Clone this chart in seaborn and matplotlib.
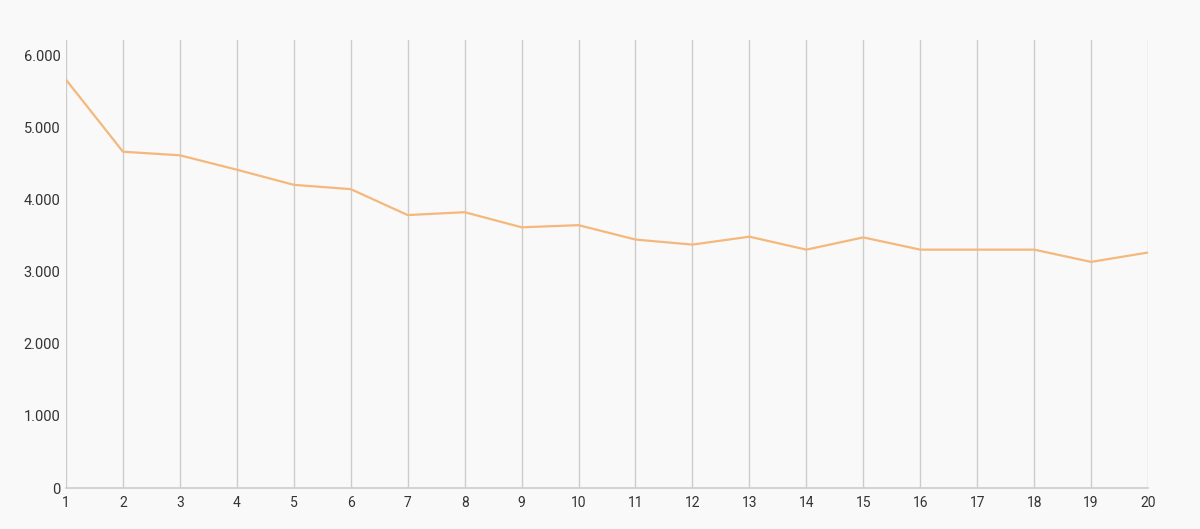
import seaborn as sns
import matplotlib.pyplot as plt
import pandas as pd
from matplotlib.ticker import FuncFormatter

# Values
steps = list(range(1, 21))
values = [5670, 4670, 4620, 4420, 4210, 4150, 3790, 3830, 3620, 3650,
          3450, 3380, 3490, 3310, 3480, 3310, 3310, 3310, 3140, 3270]
y_ticks = [0, 1000, 2000, 3000, 4000, 5000, 6000]

df = pd.DataFrame({'step': steps, 'value': values})

sns.set_style("white")
plt.rcParams['font.family'] = ['Roboto', 'DejaVu Sans']

bg = "#f9f9f9"
fig = plt.figure(figsize=(12, 5.29), dpi=100, facecolor=bg)
ax = fig.add_axes([0.055, 0.0775, 0.9017, 0.847], facecolor=bg)

sns.lineplot(x='step', y='value', data=df, ax=ax, color="#f5b87c", linewidth=1.6)

ax.set_xlim(1, 20)
ax.set_ylim(0, 6222)
ax.set_xticks(steps)
ax.set_yticks(y_ticks)
ax.yaxis.set_major_formatter(FuncFormatter(lambda v, p: f"{int(v):,}".replace(",", ".")))

# vertical grid only
ax.grid(axis='x', color="#cccccc", linewidth=1)
ax.grid(axis='y', visible=False)
for side in ['top', 'right', 'left']:
    ax.spines[side].set_visible(False)
ax.spines['bottom'].set_color("#cccccc")
ax.spines['bottom'].set_linewidth(1.2)

ax.tick_params(axis='x', length=0, pad=6, labelsize=10, labelcolor="#333333")
ax.tick_params(axis='y', length=0, pad=4, labelsize=10.5, labelcolor="#333333")
ax.set_xlabel("")
ax.set_ylabel("")

plt.savefig("out.png", dpi=100, facecolor=bg)
